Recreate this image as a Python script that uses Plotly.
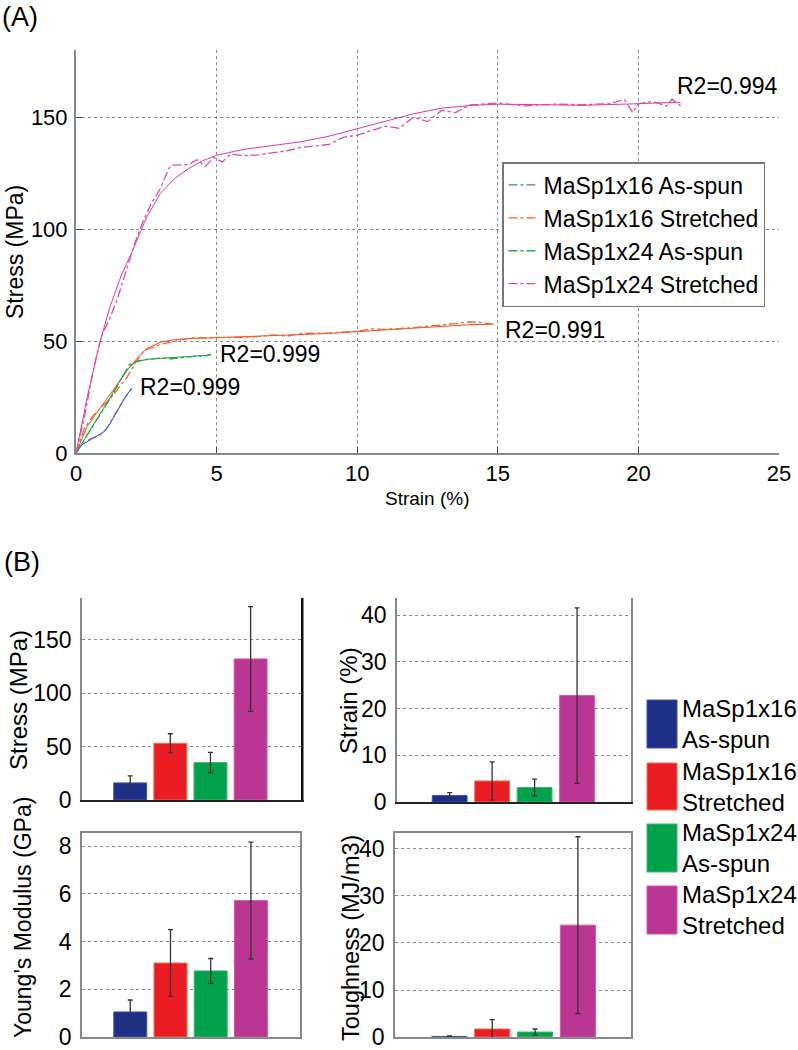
import plotly.graph_objects as go

# ---------------- Panel A data (strain %, stress MPa) ----------------
series_names = ["MaSp1x16 As-spun", "MaSp1x16 Stretched", "MaSp1x24 As-spun", "MaSp1x24 Stretched"]
raw_colors = ["#5a6fd0", "#f4622e", "#2aa84e", "#e04aa4"]
fit_colors = ["#2e45b8", "#f0501e", "#15a040", "#dc3c9c"]
r2_labels = ["R2=0.999", "R2=0.991", "R2=0.999", "R2=0.994"]
r2_x = [2.2, 15.2, 5.05, 21.3]
r2_y = [29.5, 54.9, 44.2, 163.8]

blue_raw_x = [0, 0.15, 0.3, 0.5, 0.7, 0.9, 1.1, 1.3, 1.5, 1.7, 1.9, 2.02]
blue_raw_y = [0, 3, 4.5, 6.2, 7.2, 8.5, 11, 15.5, 19.5, 24, 27.5, 29.5]
blue_fit_x = [0, 0.2, 0.5, 0.8, 1.0, 1.2, 1.4, 1.6, 1.8, 2.0]
blue_fit_y = [0, 3.5, 5.8, 7.8, 9.5, 13, 17.5, 22, 26, 29]

orange_raw_x = [0, 0.3, 0.6, 0.9, 1.2, 1.5, 1.8, 2.1, 2.4, 2.7, 3.0, 3.5, 4, 5, 5.8, 6.5, 7, 7.5, 8, 9, 10,
                10.5, 11, 12, 12.5, 13, 13.5, 14, 14.5, 14.9]
orange_raw_y = [0, 11, 16.5, 20.5, 24, 29, 33.5, 40, 45.5, 47, 48.5, 49.8, 51.3, 51.6, 51.6, 52, 52.8, 52.2,
                53.4, 53.6, 54.4, 55.4, 55.2, 56, 56.6, 57, 57.8, 58.6, 58.2, 57.4]
orange_fit_x = [0, 0.4, 0.8, 1.2, 1.6, 2.0, 2.5, 3.0, 3.5, 4, 5, 6, 7, 8, 9, 10, 11, 12, 13, 14, 14.8]
orange_fit_y = [0, 12, 19, 26, 32.5, 40, 46.5, 49.5, 50.6, 51.1, 51.5, 51.9, 52.3, 52.8, 53.4, 54.2, 55, 55.8,
                56.5, 57.3, 57.5]

green_raw_x = [0, 0.2, 0.5, 0.75, 1.0, 1.3, 1.6, 1.9, 2.2, 2.6, 3.0, 3.4, 3.8, 4.2, 4.6, 4.8]
green_raw_y = [0, 4, 9.5, 15, 19.5, 26, 33, 39.5, 41.3, 41.8, 42.4, 42.1, 42.8, 43.2, 43.3, 44.2]
green_fit_x = [0, 0.3, 0.6, 0.9, 1.2, 1.5, 1.8, 2.1, 2.5, 3.0, 3.5, 4.0, 4.5, 4.8]
green_fit_y = [0, 6, 12, 18.5, 24.5, 31, 37, 40.5, 41.8, 42.3, 42.6, 43, 43.5, 43.8]

pink_raw_x = [0, 0.3, 0.6, 0.9, 1.2, 1.5, 1.8, 2.1, 2.4, 2.7, 3.0, 3.3, 3.4, 4.0, 4.3, 4.6, 4.9, 5.2, 5.5,
              6.0, 6.5, 7.0, 7.5, 8.0, 8.5, 9.0, 9.5, 10.0, 10.5, 11, 11.5, 12, 12.5, 13, 13.5, 14, 15, 16,
              16.5, 17, 18, 19, 19.5, 19.8, 20, 20.5, 21, 21.2, 21.5]
pink_raw_y = [0, 16, 36, 52, 60, 70, 82, 94, 104, 112, 118, 127, 128.6, 128.8, 131, 128, 132, 130, 133.5,
              132.8, 133.2, 134, 135, 136.5, 137, 137.8, 141, 142, 144, 146, 145, 150, 148, 153, 152, 155.5,
              156.3, 155, 155.5, 155.8, 155.6, 156, 158, 152, 156, 157, 155, 158, 155]
pink_fit_x = [0, 0.4, 0.8, 1.2, 1.6, 2.0, 2.5, 3.0, 3.5, 4.0, 4.5, 5.0, 6, 7, 8, 9, 10, 11, 12, 13, 14, 15,
              16, 17, 18, 19, 20, 21, 21.5]
pink_fit_y = [0, 25, 47, 65, 79, 90, 105, 116, 122.5, 127, 130.5, 133, 135.7, 137.4, 139, 141.5, 144.8, 148,
              151.5, 154, 155.2, 155.8, 155.8, 155.5, 155.3, 155.5, 156, 156.5, 156.5]

raw_x = [blue_raw_x, orange_raw_x, green_raw_x, pink_raw_x]
raw_y = [blue_raw_y, orange_raw_y, green_raw_y, pink_raw_y]
fit_x = [blue_fit_x, orange_fit_x, green_fit_x, pink_fit_x]
fit_y = [blue_fit_y, orange_fit_y, green_fit_y, pink_fit_y]

# ---------------- Panel B data ----------------
bar_pos = [1, 2, 3, 4]
bar_colors = ["#1f2f88", "#ec1c24", "#00a14b", "#bb3592"]
bar_edges = ["#3c52b4", "#f4703c", "#3cb86c", "#d55aaa"]
legend_lines = ["MaSp1x16<br>As-spun", "MaSp1x16<br>Stretched", "MaSp1x24<br>As-spun", "MaSp1x24<br>Stretched"]

stress_mean = [16, 53, 35, 132]
stress_err = [6.5, 9, 9.5, 49]
strain_mean = [1.4, 4.5, 3.1, 22.8]
strain_err = [0.6, 4.1, 1.8, 18.8]
modulus_mean = [1.05, 3.1, 2.77, 5.72]
modulus_err = [0.5, 1.4, 0.52, 2.45]
tough_mean = [0.12, 1.7, 1.05, 23.8]
tough_err = [0.12, 2.0, 0.65, 18.8]

FONT = "Liberation Sans, Arial, Helvetica, sans-serif"
W, H = 798, 1050

def px(x):
    return x / W

def py(y):
    return 1 - y / H

fig = go.Figure()

# Panel A traces
for i in range(4):
    fig.add_trace(go.Scatter(x=fit_x[i], y=fit_y[i], mode="lines", showlegend=False,
                             line=dict(color=fit_colors[i], width=1), xaxis="x", yaxis="y",
                             hoverinfo="skip"))
for i in range(4):
    fig.add_trace(go.Scatter(x=raw_x[i], y=raw_y[i], mode="lines", name=series_names[i],
                             line=dict(color=raw_colors[i], width=1.3, dash="dashdot"),
                             xaxis="x", yaxis="y"))

# Panel B traces
panels = [
    (stress_mean, stress_err, "x2", "y2"),
    (strain_mean, strain_err, "x3", "y3"),
    (modulus_mean, modulus_err, "x4", "y4"),
    (tough_mean, tough_err, "x5", "y5"),
]
for means, errs, xa, ya in panels:
    fig.add_trace(go.Bar(x=bar_pos, y=means, width=0.82, showlegend=False,
                         marker=dict(color=bar_colors, line=dict(color=bar_edges, width=1)),
                         error_y=dict(type="data", array=errs, visible=True, color="#333333",
                                      thickness=1.3, width=2.5),
                         xaxis=xa, yaxis=ya))

grid = dict(showgrid=True, gridcolor="#8a8a8a", griddash="dot", gridwidth=1)
tickfontA = dict(family=FONT, size=22, color="black")
tickfontB = dict(family=FONT, size=23, color="black")

layout = dict(
    width=W, height=H, margin=dict(l=0, r=0, t=0, b=0, pad=0, autoexpand=False), autosize=False,
    paper_bgcolor="white", plot_bgcolor="white",
    font=dict(family=FONT, color="black"),
    showlegend=True,
    legend=dict(x=px(502), y=py(162), xanchor="left", yanchor="top",
                bgcolor="white", bordercolor="#777777", borderwidth=1.5,
                font=dict(family=FONT, size=23, color="black"),
                itemwidth=30, tracegroupgap=0, entrywidth=232, entrywidthmode="pixels"),
    xaxis=dict(domain=[px(76), px(779)], range=[0, 25], tickvals=[0, 5, 10, 15, 20, 25],
               showline=True, linecolor="#888888", linewidth=2, ticks="inside", ticklen=6,
               tickcolor="#444444", tickfont=tickfontA, zeroline=False, anchor="y",
               ticklabeloverflow="allow", **grid),
    yaxis=dict(domain=[py(453), py(50)], range=[0, 180], tickvals=[0, 50, 100, 150],
               showline=True, linecolor="#888888", linewidth=2, ticks="inside", ticklen=6,
               tickcolor="#444444", tickfont=tickfontA, zeroline=False, anchor="x",
               ticklabelstandoff=2, ticklabeloverflow="allow", **grid),
)

b_axes = [
    ("xaxis2", "yaxis2", [82, 302], [598, 800], [-0.2, 5.28], [0, 189], [0, 50, 100, 150], False),
    ("xaxis3", "yaxis3", [397, 631], [598, 802], [-0.24, 5.27], [0, 43.7], [0, 10, 20, 30, 40], False),
    ("xaxis4", "yaxis4", [82, 300], [833, 1037], [-0.2, 5.22], [0, 8.55], [0, 2, 4, 6, 8], True),
    ("xaxis5", "yaxis5", [395, 631], [833, 1037], [-0.27, 5.24], [0, 43.4], [0, 10, 20, 30, 40], True),
]
for k, (xn, yn, xd, yd, xr, yr, yt, boxed) in enumerate(b_axes):
    n = k + 2
    layout[xn] = dict(domain=[px(xd[0]), px(xd[1])], range=xr, showticklabels=False, ticks="",
                      showgrid=False, zeroline=False, showline=True,
                      linecolor="#888888" if boxed else "#222222", linewidth=1.5,
                      mirror=boxed, anchor=f"y{n}", fixedrange=True)
    layout[yn] = dict(domain=[py(yd[1]), py(yd[0])], range=yr, tickvals=yt, ticks="",
                      tickfont=tickfontB, zeroline=False, showline=True, linecolor="#888888",
                      linewidth=1.5, mirror=True, anchor=f"x{n}", ticklabelstandoff=4,
                      ticklabeloverflow="allow", **grid)

fig.update_layout(**layout)

ann = []
# Panel labels
ann.append(dict(text="(A)", x=0, y=1, xref="paper", yref="paper", xanchor="left", yanchor="top",
                showarrow=False, font=dict(family=FONT, size=27, color="black")))
ann.append(dict(text="(B)", x=px(2), y=py(562), xref="paper", yref="paper", xanchor="left", yanchor="middle",
                showarrow=False, font=dict(family=FONT, size=27, color="black")))
# R2 labels
for i in range(4):
    ann.append(dict(text=r2_labels[i], x=r2_x[i], y=r2_y[i], xref="x", yref="y", xanchor="left",
                    yanchor="middle", showarrow=False, font=dict(family=FONT, size=23, color="black")))
# Axis titles panel A
ann.append(dict(text="Stress (MPa)", x=px(15), y=py(252), xref="paper", yref="paper", textangle=-90,
                showarrow=False, xanchor="center", yanchor="middle",
                font=dict(family=FONT, size=23, color="black")))
ann.append(dict(text="Strain (%)", x=px(427), y=py(498), xref="paper", yref="paper",
                showarrow=False, xanchor="center", yanchor="middle",
                font=dict(family=FONT, size=19, color="black")))
# Axis titles panel B
b_titles = [("Stress (MPa)", 18, 700, 24), ("Strain (%)", 348, 701, 24),
            ("Young's Modulus (GPa)", 23, 918, 23), ("Toughness (MJ/m3)", 351, 938, 23.5)]
for t, xx, yy, fs in b_titles:
    ann.append(dict(text=t, x=px(xx), y=py(yy), xref="paper", yref="paper", textangle=-90,
                    showarrow=False, xanchor="center", yanchor="middle",
                    font=dict(family=FONT, size=fs, color="black")))
# Panel B legend (patches drawn as shapes, labels as text)
patch_rows = [(700, 748), (763, 810), (824, 872), (886, 934)]
shapes = []
for i, (y0, y1) in enumerate(patch_rows):
    shapes.append(dict(type="rect", xref="paper", yref="paper", x0=px(647), x1=px(677),
                       y0=py(y1), y1=py(y0), fillcolor=bar_colors[i],
                       line=dict(color=bar_edges[i], width=1)))
    ann.append(dict(text=legend_lines[i], x=px(680), y=py((y0 + y1) / 2), xref="paper", yref="paper",
                    xanchor="left", yanchor="middle", align="left", showarrow=False,
                    font=dict(family=FONT, size=24, color="black")))
# Dark right edge of the first bar panel
shapes.append(dict(type="line", xref="paper", yref="paper", x0=px(302), x1=px(302),
                   y0=py(800), y1=py(598), line=dict(color="#111111", width=2)))

fig.update_layout(annotations=ann, shapes=shapes)
fig.write_html("out.html", config={"displayModeBar": False},
               post_script="document.body.style.margin='0';document.body.style.overflow='hidden';")
